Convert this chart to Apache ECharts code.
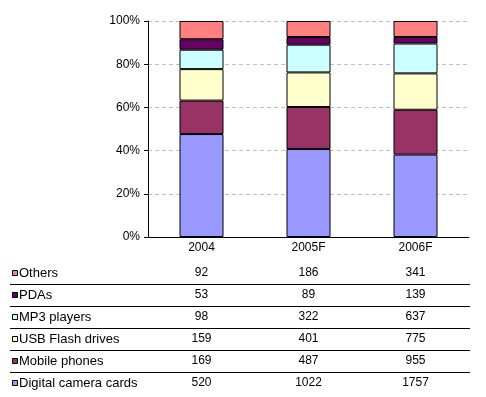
<!DOCTYPE html>
<html>
<head>
<meta charset="utf-8">
<script src="https://cdn.jsdelivr.net/npm/echarts@6/dist/echarts.min.js"></script>
<style>
  html, body { margin: 0; padding: 0; background: #fff; }
  #chart { width: 486px; height: 397px; }
</style>
</head>
<body>
<div id="chart"></div>
<script>
// 百分比堆叠柱状图 + 数据表
var years = ["2004", "2005F", "2006F"];
var seriesNames = ["Digital camera cards", "Mobile phones", "USB Flash drives", "MP3 players", "PDAs", "Others"];
var seriesColors = ["#9999ff", "#993366", "#ffffcc", "#ccffff", "#660066", "#ff8080"];
var cameraCards = [520, 1022, 1757];
var mobilePhones = [169, 487, 955];
var usbDrives = [159, 401, 775];
var mp3Players = [98, 322, 637];
var pdas = [53, 89, 139];
var others = [92, 186, 341];
var yTicks = [0, 20, 40, 60, 80, 100];

var allValues = [cameraCards, mobilePhones, usbDrives, mp3Players, pdas, others];
var totals = years.map(function (y, i) {
  var s = 0;
  allValues.forEach(function (arr) { s += arr[i]; });
  return s;
});

var font = "Liberation Sans, Arial, sans-serif";
var myChart = echarts.init(document.getElementById("chart"));

var series = allValues.map(function (arr, k) {
  return {
    name: seriesNames[k],
    type: "bar",
    stack: "total",
    barWidth: 44,
    data: arr.map(function (v, i) { return v / totals[i] * 100; }),
    itemStyle: {
      color: seriesColors[k],
      borderColor: "#000",
      borderWidth: 1
    }
  };
});

myChart.setOption({
  animation: false,
  grid: {
    left: 148,
    right: 17,
    top: 21,
    bottom: 160
  },
  xAxis: {
    type: "category",
    data: years,
    axisLine: { lineStyle: { color: "#000", width: 1 } },
    axisTick: { show: false },
    axisLabel: {
      color: "#000",
      fontFamily: font,
      fontSize: 12,
      margin: 5
    }
  },
  yAxis: {
    type: "value",
    min: yTicks[0],
    max: yTicks[yTicks.length - 1],
    interval: 20,
    axisLine: { show: true, lineStyle: { color: "#000", width: 1 } },
    axisTick: { show: true, length: 4, lineStyle: { color: "#000" } },
    axisLabel: {
      color: "#000",
      fontFamily: font,
      fontSize: 12,
      margin: 8,
      formatter: "{value}%"
    },
    splitLine: {
      lineStyle: { color: "#c0c0c0", type: [4, 3], width: 1 }
    }
  },
  series: series
});

// 数据表，列位置取自x轴
var colX = years.map(function (y) {
  return myChart.convertToPixel({ xAxisIndex: 0 }, y);
});
var rowTop = 273;
var rowH = 22;
var graphics = [];
for (var r = 0; r < seriesNames.length; r++) {
  var k = seriesNames.length - 1 - r;
  var cy = rowTop + r * rowH;
  graphics.push({
    type: "rect",
    shape: { x: 12.5, y: cy - 2.5, width: 5, height: 5 },
    style: { fill: seriesColors[k], stroke: "#000", lineWidth: 1 }
  });
  graphics.push({
    type: "text",
    x: 19,
    y: cy,
    style: {
      text: seriesNames[k],
      fill: "#000",
      font: "13px " + font,
      textVerticalAlign: "middle"
    }
  });
  for (var i = 0; i < years.length; i++) {
    graphics.push({
      type: "text",
      x: colX[i],
      y: cy,
      style: {
        text: String(allValues[k][i]),
        fill: "#000",
        font: "12px " + font,
        textAlign: "center",
        textVerticalAlign: "middle"
      }
    });
  }
  if (r < seriesNames.length - 1) {
    graphics.push({
      type: "line",
      shape: { x1: 10, y1: cy + 11.5, x2: 470, y2: cy + 11.5 },
      style: { stroke: "#000", lineWidth: 1 }
    });
  }
}
myChart.setOption({ graphic: graphics });
</script>
</body>
</html>
